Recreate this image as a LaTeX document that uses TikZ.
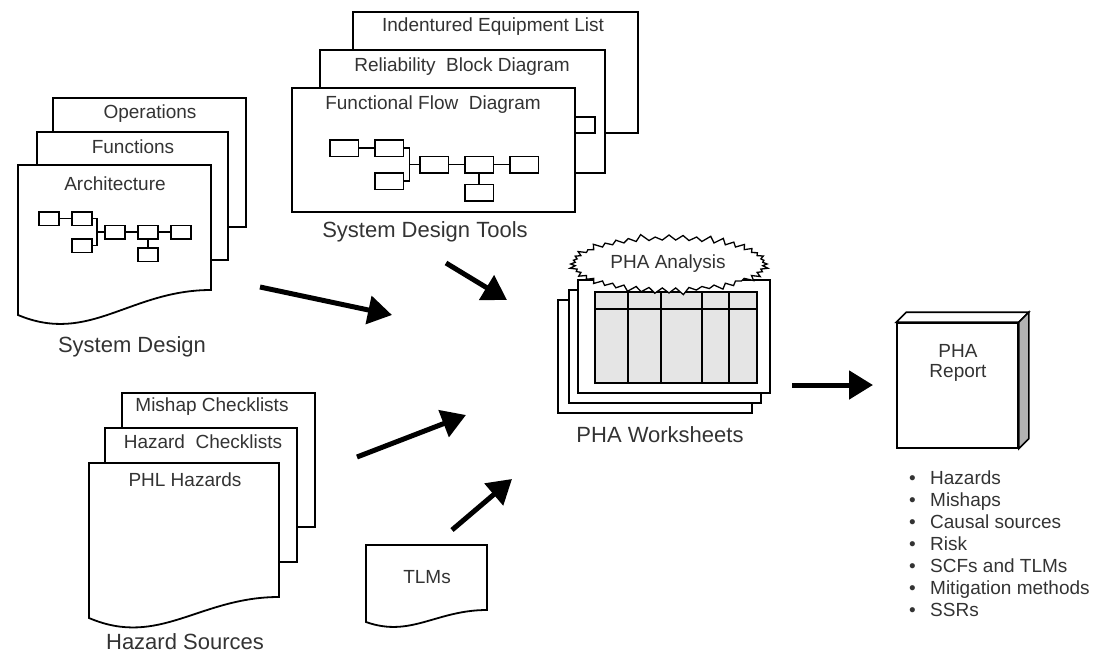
\documentclass[tikz,border=0pt]{standalone}
\usepackage{fontspec}
\setmainfont{Liberation Sans}
\usepackage{tikz}
\usetikzlibrary{arrows.meta}
\usetikzlibrary{shapes.symbols}
\tikzset{
  page/.style={fill=white, draw=black, line width=1.8pt},
  mini/.style={draw, line width=1.5pt, fill=white, inner sep=0pt, anchor=north west},
  miniln/.style={line width=1.5pt},
  lbl/.style={inner sep=0pt, text=black!80, font=\fontsize{19}{22}\selectfont, text height=13.6pt, text depth=0pt},
  biglbl/.style={inner sep=0pt, text=black!80, font=\fontsize{22}{26}\selectfont, text height=15.8pt, text depth=0pt},
  flow/.style={line width=5pt, -{Triangle[length=24pt,width=28pt]}},
  burst/.style={starburst, draw, fill=white, line width=1.3pt, minimum width=202pt, minimum height=62pt, starburst points=44, starburst point height=7pt, inner sep=0pt}
}
\newcommand{\pageR}[4]{ \filldraw[page] ( #1 , #2 ) rectangle ( #3 , #4 );}
\newcommand{\pageW}[6]{ \filldraw[page] ( #1 , #2 ) -- ( #3 , #2 ) -- ( #3 , #4 ) .. controls ({0.42*#1+0.58*#3}, #4) and ({0.63*#1+0.37*#3}, #5+#6) .. ( #1 , #5 ) -- cycle;}
\newcommand{\flowIcon}[6]{
\node[mini, minimum width=#4pt, minimum height=#5pt] (#1a) at (#2, #3) {};
\node[mini, minimum width=#4pt, minimum height=#5pt] (#1b) at (#2+#6, #3) {};
\node[mini, minimum width=#4pt, minimum height=#5pt] (#1c) at (#2+2*#6, #3+#5) {};
\node[mini, minimum width=#4pt, minimum height=#5pt] (#1d) at (#2+3*#6, #3+#5) {};
\node[mini, minimum width=#4pt, minimum height=#5pt] (#1e) at (#2+4*#6, #3+#5) {};
\node[mini, minimum width=#4pt, minimum height=#5pt] (#1f) at (#2+#6, #3+2*#5) {};
\node[mini, minimum width=#4pt, minimum height=#5pt] (#1g) at (#2+3*#6, #3+2.7*#5) {};
\draw[miniln] (#1a) -- (#1b);
\draw[miniln] (#1c) -- (#1d);
\draw[miniln] (#1d) -- (#1e);
\draw[miniln] (#1d) -- (#1g);
\draw[miniln] (#1b.east) -- ++({(#6-#4)/3},0) coordinate (#1k) |- (#1f.east);
\draw[miniln] (#1k |- #1c) -- (#1c.west);}

\begin{document}
\begin{tikzpicture}[x=1pt, y=-1pt]
\useasboundingbox (0,0) rectangle (1109,656);
% system design
\pageR{53}{98}{246}{227}
\pageR{37}{132}{228}{260}
\pageW{18}{165}{211}{290}{315}{30}
\flowIcon{ar}{38}{211}{20}{13.5}{33}
\node[lbl] (ops) at (150,112) {Operations};
\node[lbl] (fun) at (133,147) {Functions};
\node[lbl] (arc) at (115,184) {Architecture};
\node[biglbl] (sysd) at (132,345) {System Design};
% system design tools
\pageR{353}{12}{638}{133}
\pageR{320}{50}{605}{173}
\draw[miniln] (560,117) rectangle (595,133);
\pageR{292}{88}{575}{212}
\flowIcon{ff}{329}{139}{28.5}{16.5}{45}
\node[lbl] (iel) at (493,25) {Indentured Equipment List};
\node[lbl] (rbd) at (462,65) {Reliability~ Block Diagram};
\node[lbl] (ffd) at (433,103) {Functional Flow~ Diagram};
\node[biglbl] (sdt) at (425,230) {System Design Tools};
% hazard sources
\pageR{122}{393}{315}{527}
\pageR{105}{428}{297}{562}
\pageW{89}{463}{279}{597}{618}{30}
\node[lbl] (msh) at (212,405) {Mishap Checklists};
\node[lbl] (hzc) at (203,442) {Hazard~ Checklists};
\node[lbl] (phl) at (185,480) {PHL Hazards};
\node[biglbl] (hzs) at (185,642) {Hazard Sources};
% tlms
\pageW{366}{545}{487}{610}{622}{16}
\node[lbl] (tlm) at (427,577) {TLMs};
% worksheets
\pageR{558}{300}{752}{413}
\pageR{569}{290}{761}{403}
\pageR{578}{280}{770}{393}
\filldraw[fill=black!10, line width=1.8pt] (595,292) rectangle (757,383);
\draw[line width=1.8pt] (595,309) -- (757,309);
\draw[line width=1.8pt] (628,292) -- (628,383);
\draw[line width=1.8pt] (661,292) -- (661,383);
\draw[line width=1.8pt] (702,292) -- (702,383);
\draw[line width=1.8pt] (729,292) -- (729,383);
\node[burst] (pha) at (669,264) {};
\node[lbl] (phatxt) at (668,262) {PHA Analysis};
\node[biglbl] (phaw) at (660,435) {PHA Worksheets};
% report
\node[draw, line width=1.6pt, fill=white, inner sep=0pt, minimum width=121pt, minimum height=125pt] (report) at (957.5,385.5) {};
\draw[line width=1.6pt, fill=white] (report.north west) -- ++(10,-10) -- ([shift={(10,-10)}]report.north east) -- (report.north east) -- cycle;
\draw[line width=1.6pt, fill=black!30] (report.north east) -- ++(10,-10) -- ([shift={(10,-10)}]report.south east) -- (report.south east) -- cycle;
\node[inner sep=0pt, text=black!80, font=\fontsize{19}{20}\selectfont, align=center] (rptxt) at (958,363) {PHA\\Report};
\node[inner sep=0pt, text=black!80, font=\fontsize{19}{22}\selectfont, align=left, anchor=north west] (rplist) at (909,471) {%
\makebox[21pt][l]{\textbullet}Hazards\\
\makebox[21pt][l]{\textbullet}Mishaps\\
\makebox[21pt][l]{\textbullet}Causal sources\\
\makebox[21pt][l]{\textbullet}Risk\\
\makebox[21pt][l]{\textbullet}SCFs and TLMs\\
\makebox[21pt][l]{\textbullet}Mitigation methods\\
\makebox[21pt][l]{\textbullet}SSRs};
% arrows
\coordinate (sdS) at (260,287);
\coordinate (sdE) at (392,315);
\coordinate (toS) at (446,263);
\coordinate (toE) at (507,300);
\coordinate (hzS) at (357,457);
\coordinate (hzE) at (466,415);
\coordinate (tmS) at (452,530);
\coordinate (tmE) at (512,479);
\coordinate (wsS) at (792,385);
\coordinate (wsE) at (873,385);
\draw[flow] (sdS) -- (sdE);
\draw[flow] (toS) -- (toE);
\draw[flow] (hzS) -- (hzE);
\draw[flow] (tmS) -- (tmE);
\draw[flow] (wsS) -- (wsE);
\end{tikzpicture}
\end{document}
